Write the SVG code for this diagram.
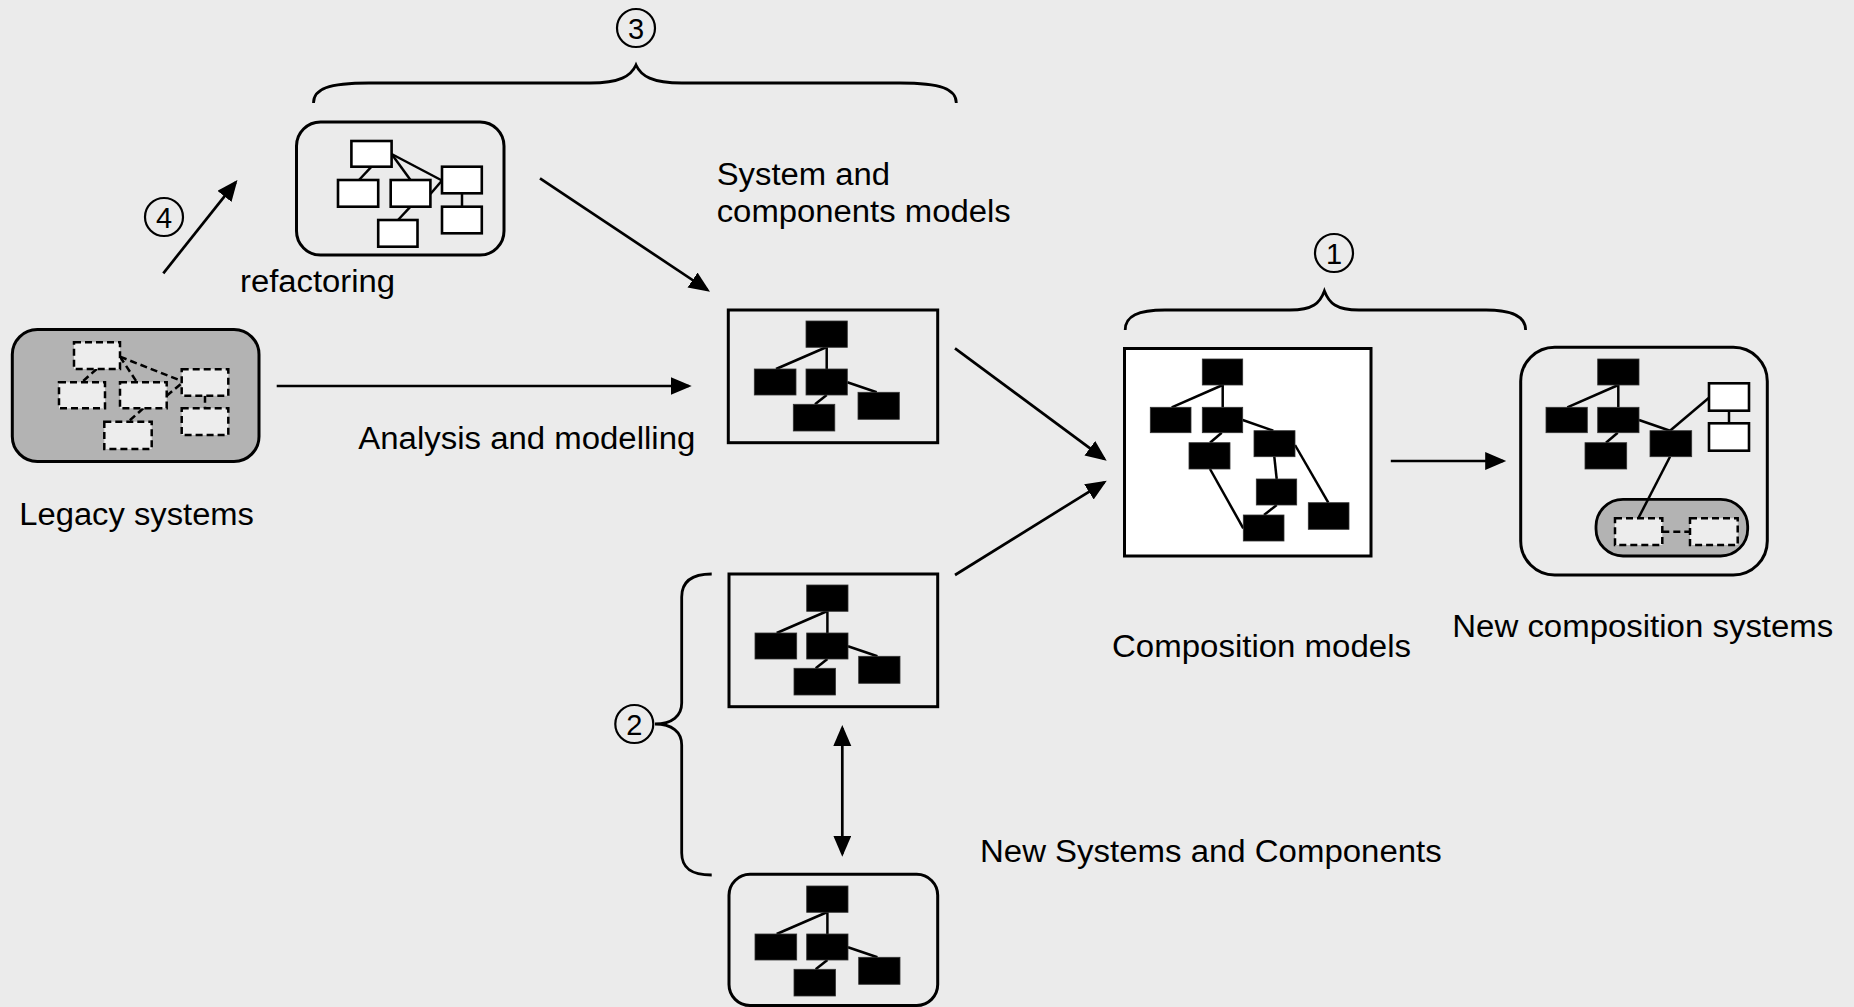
<svg xmlns="http://www.w3.org/2000/svg" xmlns:xlink="http://www.w3.org/1999/xlink" width="1854" height="1007" viewBox="0 0 1854 1007">
<style>
.t{font-family:"Liberation Sans",Arial,Helvetica,sans-serif;font-size:31px;fill:#000}
.d{font-family:"Liberation Sans",Arial,Helvetica,sans-serif;font-size:29px;fill:#000;text-anchor:middle}
.frame{fill:#ebebeb;stroke:#000;stroke-width:3}
.blk{fill:#000;stroke:#333;stroke-width:0.8}
.wht{fill:#fff;stroke:#000;stroke-width:2.6}
.dsh{fill:#ededed;stroke:#000;stroke-width:2.5;stroke-dasharray:7 4}
.ln{stroke:#000;stroke-width:2.5;fill:none}
.dln{stroke:#000;stroke-width:2.5;fill:none;stroke-dasharray:7 4}
.con{stroke:#000;stroke-width:2.7;fill:none}
.brace{stroke:#000;stroke-width:2.8;fill:none}
.circ{fill:none;stroke:#000;stroke-width:2.2}
</style>
<defs>
<marker id="ah" markerUnits="userSpaceOnUse" markerWidth="24" markerHeight="20" refX="18" refY="9" orient="auto-start-reverse">
<path d="M0,0 L21,9 L0,18 z" fill="#000"/>
</marker>
<g id="tree">
<line class="ln" x1="98.4" y1="37" x2="47.7" y2="59"/>
<line class="ln" x1="98.4" y1="37" x2="98.4" y2="59"/>
<line class="ln" x1="119" y1="72.3" x2="148.4" y2="82.3"/>
<line class="ln" x1="98.4" y1="85" x2="86.7" y2="94.3"/>
<rect class="blk" x="77.7" y="11" width="41.3" height="26.3"/>
<rect class="blk" x="26" y="59" width="41.7" height="26"/>
<rect class="blk" x="77.7" y="59" width="41.3" height="26"/>
<rect class="blk" x="65" y="94.3" width="41.5" height="26.7"/>
<rect class="blk" x="129.7" y="82.3" width="41.3" height="27"/>
</g>
</defs>
<rect x="0" y="0" width="1854" height="1007" fill="#ebebeb"/>

<g id="legacy">
<rect x="12.3" y="329.5" width="246.7" height="132" rx="25" fill="#b3b3b3" stroke="#000" stroke-width="3"/>
<line class="dln" x1="96.7" y1="369" x2="81.7" y2="382.3"/>
<line class="dln" x1="120" y1="356.7" x2="137" y2="382.3"/>
<line class="dln" x1="120" y1="356.7" x2="181.7" y2="381"/>
<line class="dln" x1="166.7" y1="395.7" x2="181.7" y2="383.3"/>
<line class="dln" x1="143.3" y1="408.3" x2="128.3" y2="421.7"/>
<line class="dln" x1="205" y1="395.7" x2="205" y2="408.3"/>
<rect class="dsh" x="74" y="342.3" width="46" height="26.7"/>
<rect class="dsh" x="59" y="382.3" width="46" height="26"/>
<rect class="dsh" x="120" y="382.3" width="46.7" height="26"/>
<rect class="dsh" x="181.7" y="369.3" width="46.6" height="26.4"/>
<rect class="dsh" x="181.7" y="408.3" width="46.6" height="26.7"/>
<rect class="dsh" x="104.3" y="421.7" width="47.4" height="27.3"/>
<text class="t" x="19.3" y="525" textLength="234.7" lengthAdjust="spacingAndGlyphs">Legacy systems</text>
</g>

<g id="refactoring">
<rect class="frame" x="296.5" y="122" width="207.5" height="133" rx="24"/>
<line class="ln" x1="371.5" y1="166.7" x2="359" y2="180"/>
<line class="ln" x1="391.6" y1="154" x2="410.5" y2="180"/>
<line class="ln" x1="391.6" y1="154" x2="442" y2="180.5"/>
<line class="ln" x1="430.4" y1="194" x2="442" y2="180.5"/>
<line class="ln" x1="410.5" y1="206.7" x2="398" y2="220"/>
<line class="ln" x1="462" y1="193.3" x2="462" y2="206.7"/>
<rect class="wht" x="351.4" y="141" width="40.2" height="25.7"/>
<rect class="wht" x="338" y="180" width="40.2" height="26.7"/>
<rect class="wht" x="390.7" y="180" width="39.7" height="26.7"/>
<rect class="wht" x="442" y="166.7" width="39.8" height="26.6"/>
<rect class="wht" x="442" y="206.7" width="39.8" height="26.6"/>
<rect class="wht" x="378.2" y="220" width="39.3" height="26.7"/>
<text class="t" x="240" y="291.7" textLength="155" lengthAdjust="spacingAndGlyphs">refactoring</text>
</g>

<g id="label4">
<circle class="circ" cx="164" cy="217" r="19"/>
<text class="d" x="164" y="227.5">4</text>
</g>

<g id="label3">
<path class="brace" d="M313.5,103 C313.5,89 328,83 369,83 L590,83 C620,83 631,76 636,65 C641,76 652,83 682,83 L900,83 C941,83 956.3,89 956.3,103"/>
<circle class="circ" cx="636" cy="28" r="19"/>
<text class="d" x="636" y="38.5">3</text>
</g>

<g id="sysmodels">
<rect class="frame" x="728.3" y="310" width="209.4" height="132.7"/>
<use xlink:href="#tree" x="728.3" y="310"/>
<text class="t" x="716.7" y="185" textLength="173.3" lengthAdjust="spacingAndGlyphs">System and</text>
<text class="t" x="716.7" y="221.7" textLength="294" lengthAdjust="spacingAndGlyphs">components models</text>
</g>

<g id="newsys1">
<rect class="frame" x="729" y="574" width="208.7" height="132.7"/>
<use xlink:href="#tree" x="729" y="574"/>
</g>

<g id="newsys2">
<rect class="frame" x="729" y="874.3" width="208.7" height="131.2" rx="21"/>
<use xlink:href="#tree" x="729" y="875"/>
<text class="t" x="980" y="861.7" textLength="461.7" lengthAdjust="spacingAndGlyphs">New Systems and Components</text>
</g>

<g id="label2">
<path class="brace" d="M711.7,574 C690,574 681.7,583 681.7,597 L681.7,703 C681.7,716 672,724 655,724 C672,724 681.7,732 681.7,745 L681.7,853 C681.7,867 690,875 711.7,875"/>
<circle class="circ" cx="634.3" cy="724" r="19"/>
<text class="d" x="634.3" y="734.5">2</text>
</g>

<g id="composition">
<rect x="1124.5" y="348.5" width="246.5" height="207.5" fill="#fff" stroke="#000" stroke-width="3"/>
<line class="ln" x1="1222.7" y1="385" x2="1171.7" y2="407.3"/>
<line class="ln" x1="1222.7" y1="385" x2="1222.7" y2="407.3"/>
<line class="ln" x1="1242.7" y1="420" x2="1273.3" y2="430.7"/>
<line class="ln" x1="1221.7" y1="432.7" x2="1210" y2="442.7"/>
<line class="ln" x1="1210" y1="469" x2="1243.3" y2="528.3"/>
<line class="ln" x1="1274.3" y1="456.7" x2="1276.7" y2="479"/>
<line class="ln" x1="1295" y1="445" x2="1328.3" y2="502.7"/>
<line class="ln" x1="1276.7" y1="505" x2="1264" y2="515"/>
<rect class="blk" x="1202.3" y="359" width="40.4" height="26"/>
<rect class="blk" x="1150.3" y="407.3" width="40.7" height="25.4"/>
<rect class="blk" x="1202.3" y="407.3" width="40.4" height="25.4"/>
<rect class="blk" x="1254" y="430.7" width="41" height="26"/>
<rect class="blk" x="1189" y="442.7" width="41" height="26.3"/>
<rect class="blk" x="1256.3" y="479" width="40.4" height="26"/>
<rect class="blk" x="1243.3" y="515" width="40.7" height="26"/>
<rect class="blk" x="1308.3" y="502.7" width="40.7" height="26.6"/>
<text class="t" x="1112" y="656.7" textLength="299" lengthAdjust="spacingAndGlyphs">Composition models</text>
</g>

<g id="label1">
<path class="brace" d="M1125.2,330 C1125.2,316 1138,310 1165,310 L1290,310 C1313,310 1320,303 1324.4,291 C1329,303 1336,310 1359,310 L1486,310 C1512,310 1525.6,316 1525.6,330"/>
<circle class="circ" cx="1334" cy="253" r="19"/>
<text class="d" x="1334" y="263.5">1</text>
</g>

<g id="newcomposition">
<rect class="frame" x="1520.7" y="347.3" width="246.6" height="227.7" rx="34"/>
<rect x="1596" y="499.3" width="151.7" height="56.7" rx="27" fill="#b3b3b3" stroke="#000" stroke-width="2.8"/>
<line class="ln" x1="1618.3" y1="385" x2="1567.3" y2="407.3"/>
<line class="ln" x1="1618.3" y1="385" x2="1618.3" y2="407.3"/>
<line class="ln" x1="1639" y1="420" x2="1670" y2="430.7"/>
<line class="ln" x1="1617.7" y1="432.7" x2="1606" y2="442.7"/>
<line class="ln" x1="1670" y1="430.7" x2="1709" y2="397.7"/>
<line class="ln" x1="1670" y1="456.7" x2="1638.3" y2="518.3"/>
<line class="ln" x1="1729" y1="410.7" x2="1729" y2="423.3"/>
<line class="dln" x1="1662.3" y1="531.7" x2="1690" y2="531.7"/>
<rect class="blk" x="1597.7" y="359" width="41.3" height="26"/>
<rect class="blk" x="1546" y="407.3" width="41.3" height="25.4"/>
<rect class="blk" x="1597.7" y="407.3" width="41.3" height="25.4"/>
<rect class="blk" x="1585" y="442.7" width="41.7" height="26.3"/>
<rect class="blk" x="1650" y="430.7" width="41.7" height="26"/>
<rect class="wht" x="1709" y="383.3" width="40" height="27.4"/>
<rect class="wht" x="1709" y="423.3" width="40" height="27.4"/>
<rect class="dsh" x="1615" y="518.3" width="47.3" height="26.7"/>
<rect class="dsh" x="1690" y="518.3" width="47.7" height="26.7"/>
<text class="t" x="1452.3" y="636.7" textLength="381" lengthAdjust="spacingAndGlyphs">New composition systems</text>
</g>

<g id="connectors">
<line class="con" x1="163.3" y1="273.3" x2="235.6" y2="182.3" marker-end="url(#ah)"/>
<line class="con" x1="540" y1="178.3" x2="707.5" y2="290" marker-end="url(#ah)"/>
<line class="con" x1="276.7" y1="386" x2="688.7" y2="386" marker-end="url(#ah)"/>
<text class="t" x="358.3" y="449" textLength="337" lengthAdjust="spacingAndGlyphs">Analysis and modelling</text>
<line class="con" x1="955" y1="348.3" x2="1104.3" y2="458.9" marker-end="url(#ah)"/>
<line class="con" x1="955" y1="575" x2="1104.2" y2="482.3" marker-end="url(#ah)"/>
<line class="con" x1="1390.8" y1="461" x2="1503.2" y2="461" marker-end="url(#ah)"/>
<line class="con" x1="842.3" y1="728" x2="842.3" y2="853.7" marker-start="url(#ah)" marker-end="url(#ah)"/>
</g>
</svg>
